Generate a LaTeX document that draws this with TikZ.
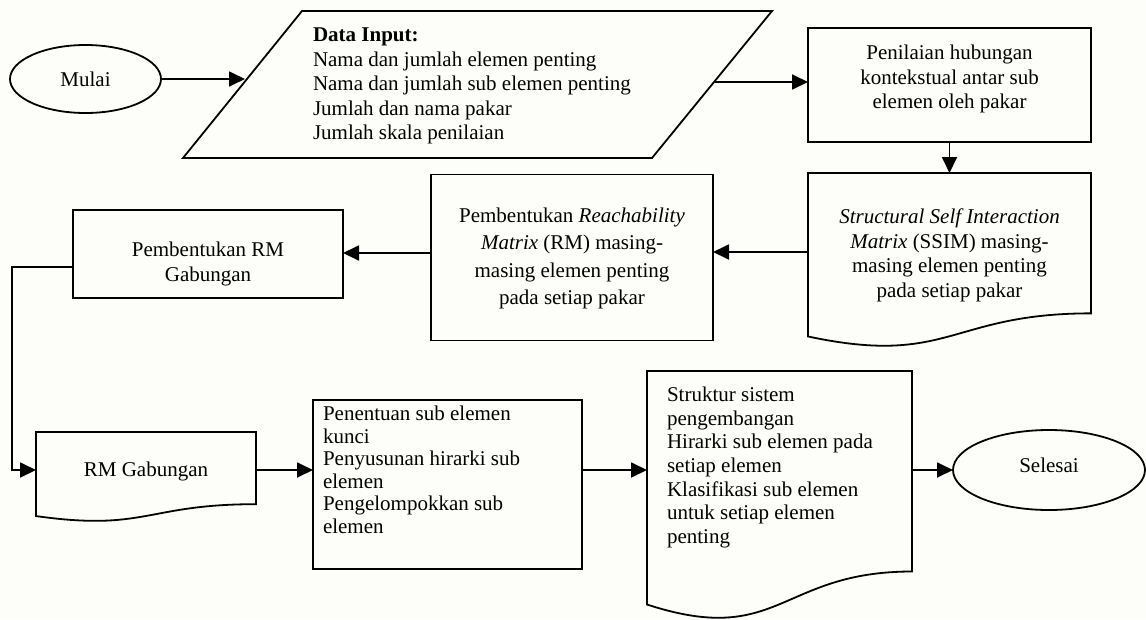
\documentclass[tikz,border=0pt]{standalone}
\usepackage{fontspec}
\setmainfont{Liberation Serif}
\usetikzlibrary{shapes.geometric,arrows.meta,calc}
\definecolor{bgc}{RGB}{253,253,249}
\tikzset{
  ln/.style={line width=1.8pt, line join=miter},
  arr/.style={ln, -{Triangle[length=16pt,width=15pt]}},
  boxn/.style={draw, ln, inner sep=0pt, outer sep=0pt},
  docn/.style={inner sep=0pt, outer sep=0pt},
  oval/.style={draw, ln, ellipse, inner sep=0pt, outer sep=0pt},
}
\newcommand{\fsz}[1]{\fontsize{21}{#1}\selectfont}
% height, width, baselineskip, top space, text
\newcommand{\ctext}[5]{\parbox[c][#1pt][t]{#2pt}{\fsz{#3}\centering\vspace*{#4pt}\strut #5}}
% height, width, baselineskip, top space, left margin, text
\newcommand{\ltext}[6]{\parbox[c][#1pt][t]{#2pt}{\fsz{#3}\raggedright\leftskip=#5pt\vspace*{#4pt}\strut #6}}
\newcommand{\docoutline}[1]{%
  \draw[ln] (#1.north west) -- (#1.north east) -- ($(#1.north east)!0.802!(#1.south east)$)
    .. controls ($(#1.north)!0.802!(#1.south)$) and ($(#1.north)!1.107!(#1.south)$) ..
    ($(#1.north west)!0.934!(#1.south west)$) -- cycle;}
\begin{document}
\begin{tikzpicture}[x=1pt,y=-1pt]
\fill[bgc] (0,0) rectangle (1146,619);
\useasboundingbox (0,0) rectangle (1146,619);

% start
\node[oval, minimum width=151pt, minimum height=68pt] (mulai) at (85.5,79) {\fsz{24}Mulai};

% data input (parallelogram)
\node[docn] (input) at (477.5,84.5) {\ltext{147}{589}{24.5}{13.35}{130}{\textbf{Data Input:}\\Nama dan jumlah elemen penting\\Nama dan jumlah sub elemen penting\\Jumlah dan nama pakar\\Jumlah skala penilaian}};
\draw[ln] ($(input.north west)+(119,0)$) -- (input.north east) -- ($(input.south east)+(-120,0)$) -- (input.south west) -- cycle;
\coordinate (inL) at (245,79);
\coordinate (inR) at (714.5,82);

\node[boxn] (pen) at (949.5,84.7) {\ctext{114}{283}{24.5}{14.65}{Penilaian hubungan\\kontekstual antar sub\\elemen oleh pakar}};

\node[docn] (ssim) at (949.5,260.5) {\ctext{175}{283}{24.5}{33.35}{\textit{Structural Self Interaction}\\\textit{Matrix} (SSIM) masing-\\masing elemen penting\\pada setiap pakar}};
\docoutline{ssim}

\node[boxn] (reach) at (572,257.5) {\ctext{166}{282}{27.5}{28.25}{Pembentukan \textit{Reachability}\\\textit{Matrix} (RM) masing-\\masing elemen penting\\pada setiap pakar}};

\node[boxn] (rmbox) at (208,254) {\ctext{88}{270}{25}{29}{Pembentukan RM\\Gabungan}};

\node[docn] (rmg) at (146,477) {\ctext{90}{220}{24.5}{27.35}{RM Gabungan}};
\docoutline{rmg}

\node[boxn] (pent) at (447.5,484.5) {\ltext{169}{269}{22.5}{5}{10}{Penentuan sub elemen\\kunci\\Penyusunan hirarki sub\\elemen\\Pengelompokkan sub\\elemen}};

\node[docn] (struk) at (779.5,496) {\ltext{250}{265}{23.7}{13.9}{20}{Struktur sistem\\pengembangan\\Hirarki sub elemen pada\\setiap elemen\\Klasifikasi sub elemen\\untuk setiap elemen\\penting}};
\docoutline{struk}

\node[oval, minimum width=192pt, minimum height=80pt, text depth=10pt] (sel) at (1049,470) {\fsz{24}Selesai};

% connectors
\draw[arr] (mulai.east) -- (inL);
\draw[arr] (inR) -- (inR -| pen.west);
\draw[arr] (pen.south) -- (ssim.north);
\draw[arr] ([yshift=8.5pt]ssim.west) -- ([yshift=8.5pt]ssim.west -| reach.east);
\draw[arr] ([yshift=4.5pt]reach.west) -- ([yshift=4.5pt]reach.west -| rmbox.east);
\draw[arr] ([yshift=-13pt]rmbox.west) -- ++(-61,0) |- ([yshift=7pt]rmg.west);
\draw[arr] ([yshift=7pt]rmg.east) -- ([yshift=7pt]rmg.east -| pent.west);
\draw[arr] ([yshift=14.5pt]pent.east) -- ([yshift=14.5pt]pent.east -| struk.west);
\draw[arr] ([yshift=26pt]struk.east) -- (sel.west);
\end{tikzpicture}
\end{document}
